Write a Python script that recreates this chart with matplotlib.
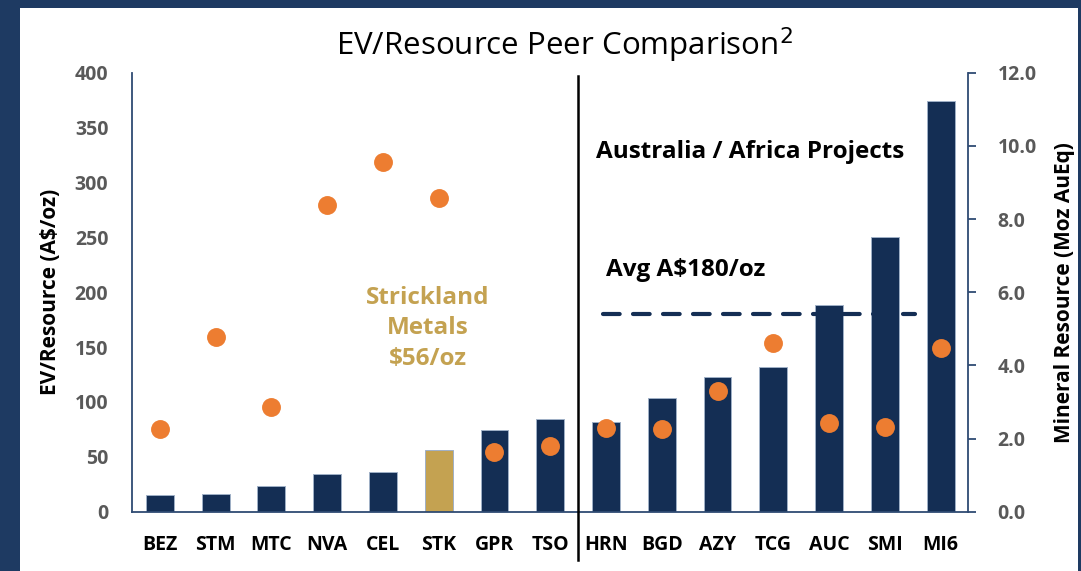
import numpy as np
import matplotlib.pyplot as plt
from matplotlib.patches import Rectangle

plt.rcParams['font.family'] = ['Open Sans', 'DejaVu Sans']

tickers = ["BEZ", "STM", "MTC", "NVA", "CEL", "STK", "GPR", "TSO",
           "HRN", "BGD", "AZY", "TCG", "AUC", "SMI", "MI6"]
ev_per_oz = [15, 16, 23, 34, 36, 56, 74, 84,
             82, 104, 123, 132, 188, 250, 374]
resource_moz = [2.26, 4.77, 2.85, 8.39, 9.57, 8.58, 1.64, 1.80,
                2.28, 2.25, 3.31, 4.62, 2.42, 2.32, 4.48]
avg_aus_africa = 180

navy = "#142E54"
gold = "#C4A251"
orange = "#ED7D31"
spine_col = "#2F4B73"

fig = plt.figure(figsize=(10.81, 5.71), dpi=100)
fig.patch.set_facecolor("#1E3A62")
fig.patches.append(Rectangle((20 / 1081, 0), 1058 / 1081, 563 / 571,
                             transform=fig.transFigure, facecolor="white",
                             edgecolor="none", zorder=-10))

ax = fig.add_axes([0.1221, 0.1039, 0.7738, 0.7688])
ax.set_facecolor("none")
x = np.arange(len(tickers))
colors = [gold if t == "STK" else navy for t in tickers]
ax.bar(x, ev_per_oz, width=0.5, color=colors, edgecolor="#9FB0C6", linewidth=0.7, zorder=2)
ax.set_xlim(-0.5, len(tickers) - 0.5)
ax.set_ylim(0, 400)
ax.set_yticks(np.arange(0, 401, 50))
ax.set_xticks(x)
ax.set_xticklabels(tickers, fontsize=14, fontweight="bold", color="black")
ax.tick_params(axis="x", length=0, pad=17)
ax.tick_params(axis="y", length=0, pad=17, labelsize=14, labelcolor="#595959")
for lab in ax.get_yticklabels():
    lab.set_fontweight("bold")
for s in ["top", "right"]:
    ax.spines[s].set_visible(False)
for s in ["left", "bottom"]:
    ax.spines[s].set_color(spine_col)
    ax.spines[s].set_linewidth(1.3)
ax.set_ylabel("EV/Resource (A$/oz)", fontsize=15, fontweight="bold", color="black", labelpad=10)

ax2 = ax.twinx()
ax2.set_ylim(0, 12)
ax2.set_yticks(np.arange(0, 12.1, 2))
ax2.set_yticklabels([f"{v:.1f}" for v in np.arange(0, 12.1, 2)])
ax2.scatter(x, resource_moz, s=185, color=orange, zorder=3, linewidths=0)
for s in ["top", "left", "bottom"]:
    ax2.spines[s].set_visible(False)
ax2.spines["right"].set_color(spine_col)
ax2.spines["right"].set_linewidth(1.3)
ax2.tick_params(axis="y", direction="out", length=6, width=1.3, color=spine_col,
                pad=15, labelsize=14, labelcolor="#595959")
for lab in ax2.get_yticklabels():
    lab.set_fontweight("bold")
ax2.set_ylabel("Mineral Resource (Moz AuEq)", fontsize=15, fontweight="bold",
               color="black", labelpad=12)

# divider between groups
ax.plot([7.5, 7.5], [-44, 397], color="black", lw=1.8, clip_on=False, zorder=4)
# average line
ax.plot([7.95, 13.55], [avg_aus_africa, avg_aus_africa], color=navy, lw=3,
        dashes=(4, 3.2), dash_capstyle="round", zorder=4)

ax.text(8.0, 220, "Avg A$180/oz", fontsize=17.5, fontweight="bold", color="black",
        ha="left", va="center")
ax.text(10.59, 328, "Australia / Africa Projects", fontsize=17.5, fontweight="bold",
        color="black", ha="center", va="center")
ax.text(4.8, 167, "Strickland\nMetals\n$56/oz", fontsize=17.5, fontweight="bold",
        color=gold, ha="center", va="center", linespacing=1.35)

fig.text(0.522, 0.921, "EV/Resource Peer Comparison$^{2}$", fontsize=22.5,
         color="black", ha="center", va="center")

fig.savefig("out.png", dpi=100, facecolor=fig.get_facecolor())
